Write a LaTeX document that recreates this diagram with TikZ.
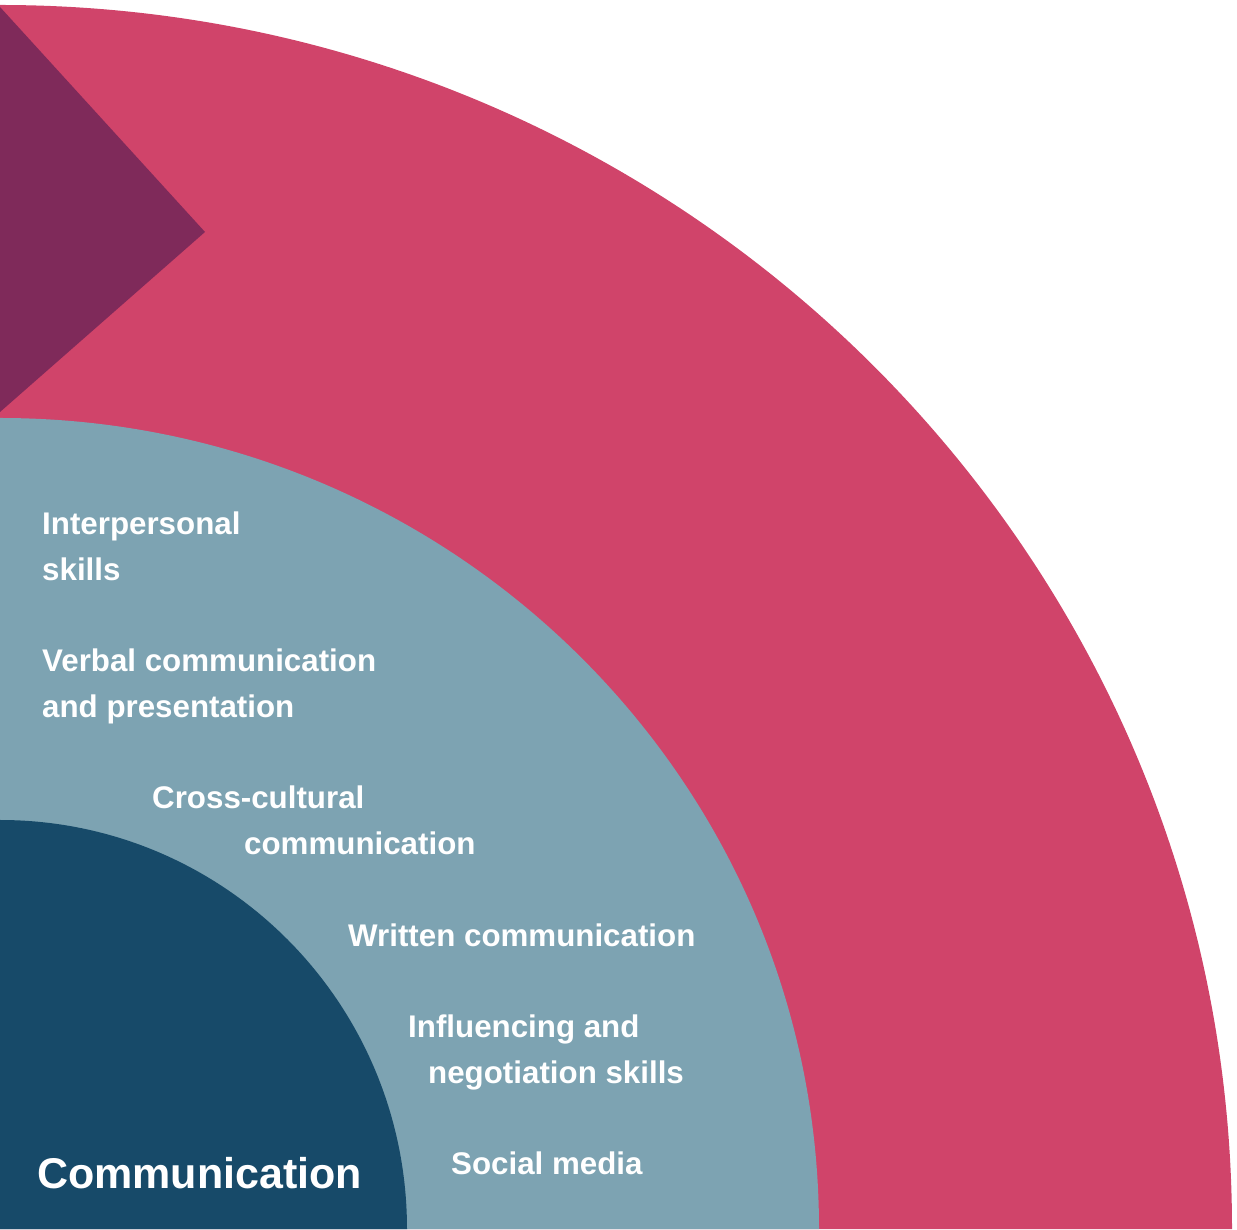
\documentclass[tikz,border=0pt]{standalone}
\usepackage{fontspec}
\setmainfont{Liberation Sans}
\definecolor{ringpink}{HTML}{D0446A}
\definecolor{arrowplum}{HTML}{7F2A5A}
\definecolor{ringgrey}{HTML}{7DA3B2}
\definecolor{corenavy}{HTML}{174A69}
\begin{document}
\begin{tikzpicture}[x=1pt,y=1pt,
  item/.style={anchor=base west, inner sep=0pt, text=white,
    font=\fontsize{31.3}{37}\selectfont\bfseries},
  title/.style={anchor=base west, inner sep=0pt, text=white,
    font=\fontsize{43}{51}\selectfont\bfseries}]
\useasboundingbox (0,0) rectangle (1237,1229);
% outer ring
\fill[ringpink] (0,0) -- (1232,0)
  arc[start angle=0,end angle=90,x radius=1232,y radius=1224] -- cycle;
% chevron in the outer ring
\fill[arrowplum] (0,1222) -- (205,997) -- (0,817) -- cycle;
% middle ring
\fill[ringgrey] (0,0) -- (819,0)
  arc[start angle=0,end angle=90,x radius=819,y radius=811] -- cycle;
% core
\fill[corenavy] (0,0) -- (407,0)
  arc[start angle=0,end angle=90,x radius=407,y radius=409] -- cycle;
% skills
\node[item] (ip1) at (42,694) {Interpersonal};
\node[item] (ip2) at (42,648) {skills};
\node[item] (vb1) at (42,557) {Verbal communication};
\node[item] (vb2) at (42,511) {and presentation};
\node[item] (cc1) at (152,420) {Cross-cultural};
\node[item] (cc2) at (244,374) {communication};
\node[item] (wr)  at (348,282) {Written communication};
\node[item] (in1) at (408,191) {Influencing and};
\node[item] (in2) at (428,145) {negotiation skills};
\node[item] (sm)  at (451,54) {Social media};
% core label
\node[title] (core) at (37,40) {Communication};
\end{tikzpicture}
\end{document}
